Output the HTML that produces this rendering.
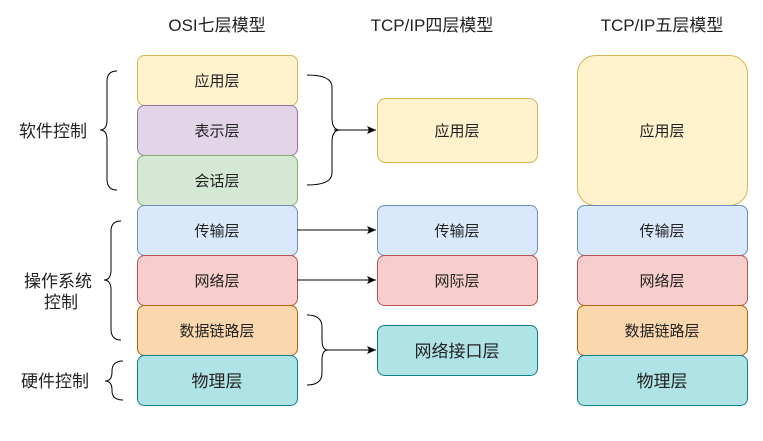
<!DOCTYPE html>
<html><head><meta charset="utf-8"><style>
html,body{margin:0;padding:0;background:#fff;}
svg{display:block;}
text{font-family:"Liberation Sans","Noto Sans CJK SC",sans-serif;fill:#222;}
</style></head><body>
<svg width="763" height="441" viewBox="0 0 763 441">
<defs><marker id="a" markerWidth="10" markerHeight="10" refX="9" refY="5" orient="auto" markerUnits="userSpaceOnUse"><path d="M0,1 L9,5 L0,9 L2,5 Z" fill="#000"/></marker></defs>
<g font-size="17" text-anchor="middle">
<text x="217" y="31">OSI七层模型</text>
<text x="432" y="31">TCP/IP四层模型</text>
<text x="662" y="31">TCP/IP五层模型</text>
</g>
<g stroke-width="1">
<rect x="137.5" y="55.5" width="160" height="50" rx="7" fill="#fff2cc" stroke="#d6b656"/>
<rect x="137.5" y="105.5" width="160" height="50" rx="7" fill="#e1d5e7" stroke="#9673a6"/>
<rect x="137.5" y="155.5" width="160" height="50" rx="7" fill="#d5e8d4" stroke="#82b366"/>
<rect x="137.5" y="205.5" width="160" height="50" rx="7" fill="#dae8fc" stroke="#6c8ebf"/>
<rect x="137.5" y="255.5" width="160" height="50" rx="7" fill="#f8cecc" stroke="#b85450"/>
<rect x="137.5" y="305.5" width="160" height="50" rx="7" fill="#fad7ac" stroke="#b46504"/>
<rect x="137.5" y="355.5" width="160" height="50" rx="7" fill="#b0e3e6" stroke="#0e8088"/>
<rect x="377.5" y="98.5" width="160" height="64" rx="8" fill="#fff2cc" stroke="#d6b656"/>
<rect x="377.5" y="205.5" width="160" height="50" rx="7" fill="#dae8fc" stroke="#6c8ebf"/>
<rect x="377.5" y="255.5" width="160" height="50" rx="7" fill="#f8cecc" stroke="#b85450"/>
<rect x="377.5" y="325.5" width="160" height="50" rx="7" fill="#b0e3e6" stroke="#0e8088"/>
<rect x="577.5" y="55.5" width="170" height="150" rx="18" fill="#fff2cc" stroke="#d6b656"/>
<rect x="577.5" y="205.5" width="170" height="50" rx="7" fill="#dae8fc" stroke="#6c8ebf"/>
<rect x="577.5" y="255.5" width="170" height="50" rx="7" fill="#f8cecc" stroke="#b85450"/>
<rect x="577.5" y="305.5" width="170" height="50" rx="7" fill="#fad7ac" stroke="#b46504"/>
<rect x="577.5" y="355.5" width="170" height="50" rx="7" fill="#b0e3e6" stroke="#0e8088"/>
</g>
<g font-size="15" text-anchor="middle">
<text x="217" y="86">应用层</text><text x="217" y="136">表示层</text><text x="217" y="186">会话层</text>
<text x="217" y="236">传输层</text><text x="217" y="286">网络层</text><text x="217" y="336">数据链路层</text>
<text x="217" y="387" font-size="17">物理层</text>
<text x="457" y="136">应用层</text><text x="457" y="236">传输层</text><text x="457" y="286">网际层</text>
<text x="457" y="357" font-size="17">网络接口层</text>
<text x="662" y="136">应用层</text><text x="662" y="236">传输层</text><text x="662" y="286">网络层</text><text x="662" y="336">数据链路层</text>
<text x="662" y="387" font-size="17">物理层</text>
</g>
<g font-size="17" text-anchor="middle">
<text x="53" y="137">软件控制</text>
<text x="58" y="287">操作系统</text><text x="61" y="308">控制</text>
<text x="55" y="387">硬件控制</text>
</g>
<g fill="none" stroke="#000" stroke-width="1">
<path d="M117,71 Q107,71 107,81 L107,120 Q107,130 100,130 Q107,130 107,140 L107,179 Q107,190 117,190"/>
<path d="M121,221 Q111,221 111,231 L111,270 Q111,280 104,280 Q111,280 111,290 L111,329 Q111,340 121,340"/>
<path d="M123,361 Q112,361 112,371 L112,372 Q112,381 105,381 Q112,381 112,390 L112,391 Q112,400 123,400"/>
<path d="M307,75 Q332,75 332,87 L332,118 Q332,130 340,130 Q332,130 332,142 L332,173 Q332,185 307,185"/>
<path d="M307,315 Q322,315 322,327 L322,340 Q322,350 328,350 Q322,350 322,360 L322,373 Q322,385 307,385"/>
<line x1="334" y1="130" x2="376" y2="130" marker-end="url(#a)"/>
<line x1="326" y1="350" x2="376" y2="350" marker-end="url(#a)"/>
<line x1="297" y1="230" x2="376" y2="230" marker-end="url(#a)"/>
<line x1="297" y1="280" x2="376" y2="280" marker-end="url(#a)"/>
</g>
</svg>
</body></html>
